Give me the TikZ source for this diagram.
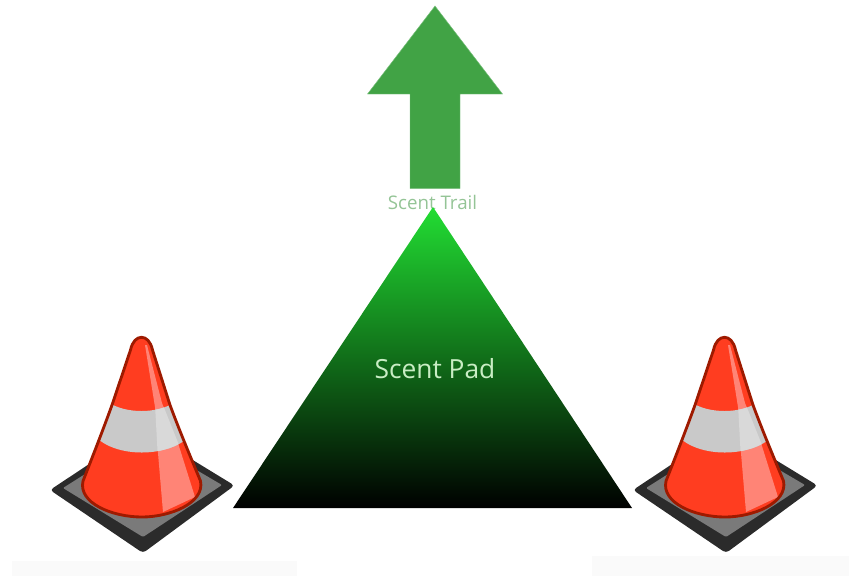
\documentclass[tikz,border=0pt]{standalone}
\usepackage{fontspec}
\setmainfont{Open Sans}
\usetikzlibrary{positioning}

\newcommand{\conepath}{(83,481) .. controls (92,458) and (103,430) .. (112,405) -- (130.5,350) .. controls (134,333) and (149,333) .. (152.5,350) -- (170,405) .. controls (180,432) and (191,458) .. (200.5,481) .. controls (205,503) and (170,517) .. (142,517) .. controls (112,517) and (78,503) .. (83,481) -- cycle}
\newcommand{\stripepath}{(108,402) .. controls (125,414) and (158,414) .. (175,402) -- (190,436) .. controls (168,458) and (115,458) .. (95,436) -- cycle}

\definecolor{trailgreen}{HTML}{41A345}
\definecolor{padgreen}{HTML}{22DD33}
\definecolor{trailtext}{HTML}{94C496}
\definecolor{padtext}{HTML}{C9EDC4}
\definecolor{coneorange}{HTML}{FF3D20}
\definecolor{conelight}{HTML}{FF8476}
\definecolor{coneline}{HTML}{9E1A00}

\begin{document}
\begin{tikzpicture}[
  x=0.03cm, y=-0.03cm,
  trail/.style={fill=trailgreen, draw=trailgreen!70!white, line width=0.4pt},
  pad/.style={top color=padgreen, bottom color=black},
  label/.style={inner sep=0pt, anchor=center},
  panel/.style={fill=black!2, draw=none},
  conebase/.pic={
    \fill[black!83, rounded corners=3pt] (50,490) -- (142,429) -- (234.5,485.5) -- (143,553) -- cycle;
    \fill[black!52, rounded corners=1pt] (63,488) -- (142,438) -- (222,485) -- (143,537) -- cycle;
    \fill[coneorange] \conepath;
    \begin{scope}
      \clip \conepath;
      \fill[conelight] (145,345) -- (147,345) -- (162,403) -- (178,443) -- (195,497) -- (163,512) -- (158,453) -- (155,407) -- cycle;
      \fill[black!21] \stripepath;
      \clip \stripepath;
      \fill[black!15] (154.5,395) -- (159,395) -- (183,455) -- (158,460) -- cycle;
    \end{scope}
    \draw[coneline, line width=0.085cm, line join=round] \conepath;
  }
]
\useasboundingbox (0,0) rectangle (849,576);

%% ---------- faint panels along the bottom edge ----------
\fill[panel] (12,561) rectangle (297,576);
\fill[panel] (592,556) rectangle (849,576);

%% ---------- arrow and its label ----------
\draw[trail] (435,6) -- (502.5,94) -- (460,94) -- (460,188.5) -- (410,188.5) -- (410,94) -- (367.5,94) -- cycle;
\node[label, font=\fontsize{16}{19}\selectfont, text=trailtext] (traillabel) at (432.5,202) {Scent Trail};

%% ---------- pad ----------
\path[pad] (433,207) -- (632,508) -- (233,508) -- cycle;
\node[label, font=\fontsize{22.5}{27}\selectfont, text=padtext] (padlabel) at (435,369) {Scent Pad};

%% ---------- cones ----------
\pic at (0,0) {conebase};
\pic at (583,0) {conebase};

\end{tikzpicture}
\end{document}
